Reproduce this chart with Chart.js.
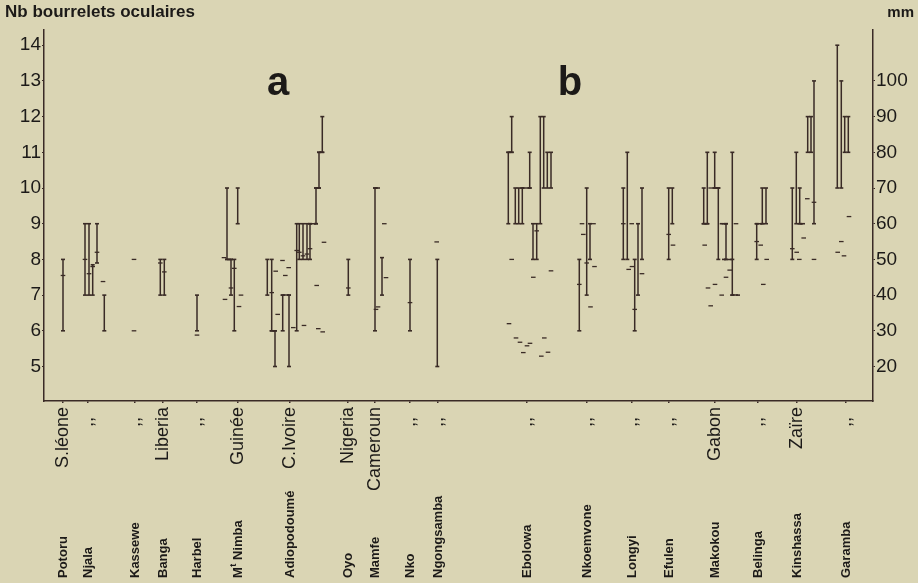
<!DOCTYPE html>
<html><head><meta charset="utf-8">
<script src="https://cdn.jsdelivr.net/npm/chart.js@4.4.1/dist/chart.umd.min.js"></script>
<style>html,body{margin:0;padding:0;background:#dad5b4;}canvas{display:block}</style>
</head><body>
<canvas id="c" width="918" height="583"></canvas>
<script>
// ---------- DATA ----------
const localities = ['Potoru','Njala','Kassewe','Banga','Harbel','Mt Nimba','Adiopodoumé','Oyo','Mamfe','Nko','Ngongsamba','Ebolowa','Nkoemvone','Longyi','Efulen','Makokou','Belinga','Kinshassa','Garamba'];
const countries = ['S.léone',',,  ',',,  ','Liberia',',,  ','Guinée','C.Ivoire','Nigeria','Cameroun',',,  ',',,  ',',,  ',',,  ',',,  ',',,  ','Gabon',',,  ','Zaïre',',,  '];
// position of each locality along the horizontal axis
const localityPosition = [19,44,91,119,153,194,246,304,331,366,394,483,543,588,625,671,714,753,802];
const countTicks = [5,6,7,8,9,10,11,12,13,14];
const mmTicks = [20,30,40,50,60,70,80,90,100];

// a : number of ocular rings -- ranges [locality, offset, low, high]
const ringRanges = [
 [0,0,6,8],
 [1,-3,7,9],[1,1,7,9],[1,4.7,7,7.85],[1,9,7.9,9],[1,16.3,6,7],
 [3,-2.7,7,8],[3,1.3,7,8],
 [4,0,6,7],
 [5,-11,8,10],[5,-7,7,8],[5,-3.7,6,8],[5,-0.3,9,10],
 [6,-22.7,7,8],[6,-18.3,6,8],[6,-15,5,6],[6,-7.3,6,7],[6,-1,5,7],[6,6.7,6,9],[6,9.3,8,9],[6,13,8,9],[6,17,8,9],[6,20,8,9],[6,26,9,10],[6,29,10,11],[6,32.3,11,12],
 [7,0.3,7,8],
 [8,0,6,10],[8,7,7,8.05],
 [9,0,6,8],
 [10,-0.7,5,8]
];
// steps joining ranges [locality, offset1, offset2, value]
const ringSteps = [
 [5,-11,-7,8],[6,-18.3,-15,6],[6,-7.3,-1,7],[6,20,26,9],[6,26,29,10],[6,29,32.3,11],[8,0,3,10]
];
// single values / means [locality, offset, value]
const ringMarks = [
 [0,0,7.55],
 [1,-3,8.0],[1,1,7.6],[1,4.7,7.8],[1,9,8.2],[1,15,7.38],
 [2,-1,8.0],[2,-1,6.0],
 [3,-2.7,7.9],[3,1.3,7.65],
 [4,0,5.88],
 [5,-14,8.05],[5,-13,6.88],[5,-7,7.2],[5,-3.7,7.75],[5,3,7.0],[5,1,6.68],
 [6,-18.3,7.07],[6,-14.3,7.67],[6,-7.5,7.97],[6,-1.3,7.77],[6,-4.7,7.55],[6,-12.3,6.46],[6,3.3,6.09],[6,6.7,8.25],[6,9.3,8.2],[6,13,8.1],[6,17,8.15],[6,20,8.3],[6,26.7,7.27],[6,34,8.48],[6,14,6.15],[6,28.3,6.06],[6,32.7,5.97],
 [7,0.3,7.2],
 [8,1,6.6],[8,3,6.67],[8,9.3,9.0],[8,11,7.49],
 [9,0,6.79],
 [10,-1.3,8.49]
];

// b : size in mm -- ranges [locality, offset, low, high]
const mmRanges = [
 [11,-18.7,60,80],[11,-15.3,80,90],[11,-11.7,60,70],[11,-8.3,60,70],[11,-4.7,60,70],[11,2.7,70,80],[11,6,50,60],[11,9.7,50,60],[11,13.3,60,90],[11,16.7,70,90],[11,20.3,70,80],[11,24,70,80],
 [12,-7.7,30,50],[12,-0.3,40,70],[12,3,50,60],
 [13,-8.7,50,70],[13,-4.7,50,80],[13,2.7,30,50],[13,6,40,60],[13,10,50,70],
 [14,-0.3,50,70],[14,3.3,60,70],
 [15,-11.3,60,70],[15,-7.7,60,80],[15,-0.3,70,80],[15,3.3,50,70],[15,11,50,60],[15,17.3,40,80],
 [16,-1.3,50,60],[16,4.3,60,70],[16,8,60,70],
 [17,-4.7,50,70],[17,-0.7,60,80],[17,2.7,60,70],[17,10.7,80,90],[17,14,80,90],[17,17,60,100],
 [18,-8.7,70,110],[18,-4.7,70,100],[18,-1.3,80,90],[18,2.3,80,90]
];
const mmSteps = [
 [11,-18.7,-15.3,80],[11,-4.7,2.7,70],
 [15,-11.3,-7.7,60],[15,-0.3,3.3,70],[15,6.7,11,60],[15,9,17.3,50],[15,17.3,23,40],
 [16,-1.3,4.3,60],
 [17,2.7,6,60]
];
const mmMarks = [
 [11,9.7,58],[11,-15.3,50],[11,6.3,45],[11,24,46.8],[11,-18,32],[11,-11,28],[11,-7,26.8],[11,0,25.8],[11,3,26.5],[11,-3.7,23.9],[11,17.3,28],[11,14.3,22.9],[11,21,24],
 [12,-7.7,43],[12,-0.3,49],[12,-3.7,57],[12,7.5,48],[12,3.5,36.7],[12,-5,60],[12,6.5,60],
 [13,-8.7,60],[13,-0.3,60],[13,0,48],[13,-3.3,47.2],[13,2.7,36],[13,10,46],
 [14,-0.3,57],[14,4,54],
 [15,-4.3,70],[15,21,60],[15,11,45],[15,14.7,47],[15,6.7,40],[15,0,43],[15,-7,42],[15,-4.3,37],[15,-10.3,54],
 [16,-1.3,55],[16,2.7,54],[16,8.7,50],[16,5.3,43],
 [17,-4.7,53],[17,-0.3,52],[17,2.3,50],[17,6.7,56],[17,10.3,67],[17,17,66],[17,17,50],
 [18,3,62],[18,-4.7,55],[18,-8.3,52],[18,-2,51]
];

// ---------- BUILD ----------
const INK = '#3a2b26';
const TEXT = '#1c1a18';
const BG = '#dad5b4';
const FONT = '"Liberation Sans", Arial, sans-serif';

function segments(ranges, steps){
  const out = [];
  ranges.forEach(([l,dx,lo,hi]) => { const x = localityPosition[l]+dx; out.push({x,y:lo},{x,y:hi},{x,y:null}); });
  steps.forEach(([l,d1,d2,v]) => { const p = localityPosition[l]; out.push({x:p+d1,y:v},{x:p+d2,y:v},{x:p+d2,y:null}); });
  return out;
}
function marks(list){ return list.map(([l,dx,v]) => ({x:localityPosition[l]+dx, y:v})); }

const yMin = 4.034, yMax = 14.426;
const toMm = v => 10*(v-3);

const bgPlugin = { id:'bg', beforeDraw(c){ const g=c.ctx; g.save(); g.fillStyle=BG; g.fillRect(0,0,c.width,c.height); g.restore(); } };
const textPlugin = { id:'texts', afterDraw(c){
  const g = c.ctx, xs = c.scales.x;
  g.save();
  g.fillStyle = TEXT;
  g.textBaseline = 'middle';
  localities.forEach((name,i) => {
    const px = xs.getPixelForValue(localityPosition[i]);
    g.save(); g.translate(px, 578); g.rotate(-Math.PI/2);
    g.textAlign = 'left';
    if (name === 'Mt Nimba') {
      g.font = 'bold 13px ' + FONT; g.fillText('M', 0, 0);
      const w = g.measureText('M').width;
      g.font = 'bold 9px ' + FONT; g.fillText('t', w+0.5, -4);
      const w2 = g.measureText('t').width;
      g.font = 'bold 13px ' + FONT; g.fillText(' Nimba', w+w2+0.5, 0);
    } else {
      g.font = 'bold 13px ' + FONT; g.fillText(name, 0, 0);
    }
    g.restore();
  });
  g.font = 'bold 40px ' + FONT; g.textAlign='center'; g.textBaseline='alphabetic';
  g.fillText('a', 278, 95);
  g.fillText('b', 570, 95);
  g.font = 'bold 15px ' + FONT; g.textAlign='right'; g.textBaseline='middle';
  g.fillText('mm', 914, 13);
  g.restore();
}};

new Chart(document.getElementById('c'), {
  type: 'scatter',
  data: { datasets: [
    { label:'a ranges', data: segments(ringRanges, ringSteps), yAxisID:'y', showLine:true, spanGaps:false,
      borderColor:INK, borderWidth:1.5, pointStyle:'line', pointRadius:2, pointBorderColor:INK, pointBorderWidth:1.6 },
    { label:'a marks', data: marks(ringMarks), yAxisID:'y', showLine:false,
      pointStyle:'line', pointRadius:2.3, pointBorderColor:INK, pointBorderWidth:1.3 },
    { label:'b ranges', data: segments(mmRanges, mmSteps), yAxisID:'y2', showLine:true, spanGaps:false,
      borderColor:INK, borderWidth:1.5, pointStyle:'line', pointRadius:2, pointBorderColor:INK, pointBorderWidth:1.6 },
    { label:'b marks', data: marks(mmMarks), yAxisID:'y2', showLine:false,
      pointStyle:'line', pointRadius:2.3, pointBorderColor:INK, pointBorderWidth:1.3 }
  ]},
  options: {
    responsive:false, animation:false, events:[],
    layout:{ padding:{ left:5, right:4, top:2, bottom:5 } },
    plugins:{
      legend:{ display:false }, tooltip:{ enabled:false },
      title:{ display:true, text:'Nb bourrelets oculaires', align:'start', color:TEXT,
        font:{ family:FONT, size:17, weight:'bold' }, padding:{ top:0, bottom:7.6 } }
    },
    scales:{
      x:{ type:'linear', min:0, max:829, position:'bottom',
        afterBuildTicks: s => { s.ticks = localityPosition.map(v => ({value:v})); },
        afterFit: s => { s.height = 177; },
        border:{ display:true, color:INK, width:1.5 },
        grid:{ display:true, drawOnChartArea:false, drawTicks:true, tickLength:2, color:INK, lineWidth:1.5 },
        ticks:{ autoSkip:false, minRotation:90, maxRotation:90, padding:4, color:TEXT,
          font:{ family:FONT, size:18 },
          callback: (v, i) => countries[i] }
      },
      y:{ type:'linear', position:'left', min:yMin, max:yMax,
        afterBuildTicks: s => { s.ticks = countTicks.map(v => ({value:v})); },
        afterFit: s => { s.width = 39; },
        border:{ display:true, color:INK, width:1.5 },
        grid:{ display:true, drawOnChartArea:false, drawTicks:true, tickLength:2, color:INK },
        ticks:{ padding:1, color:TEXT, font:{ family:FONT, size:19 } }
      },
      y2:{ type:'linear', position:'right', min:toMm(yMin), max:toMm(yMax),
        afterBuildTicks: s => { s.ticks = mmTicks.map(v => ({value:v})); },
        afterFit: s => { s.width = 41; },
        border:{ display:true, color:INK, width:1.5 },
        grid:{ display:true, drawOnChartArea:false, drawTicks:true, tickLength:2, color:INK },
        ticks:{ padding:1, color:TEXT, font:{ family:FONT, size:19 } }
      }
    }
  },
  plugins:[bgPlugin, textPlugin]
});
</script>
</body></html>
